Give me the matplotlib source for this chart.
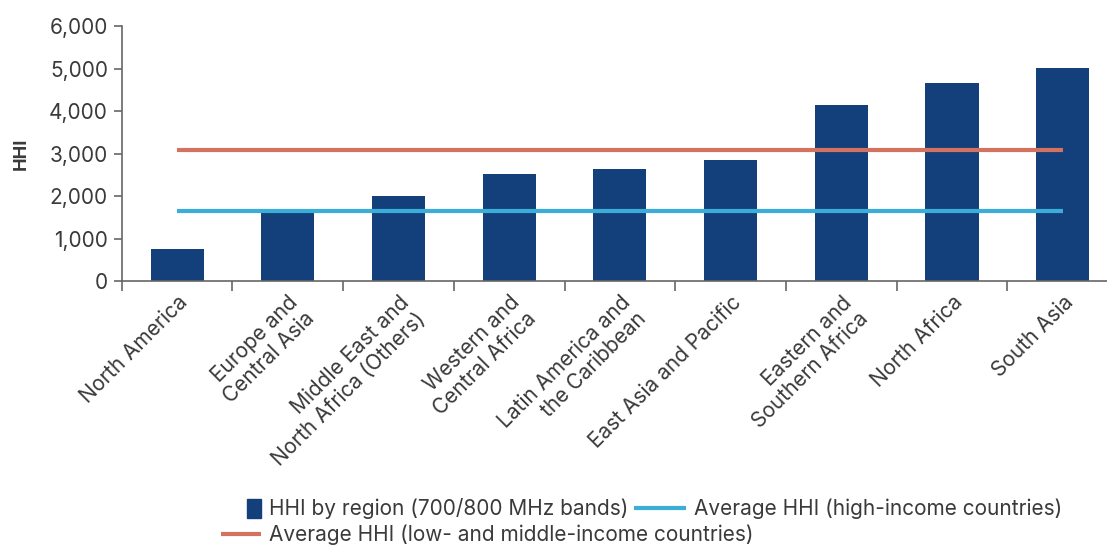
import matplotlib.pyplot as plt
from matplotlib.patches import Rectangle
from matplotlib.legend_handler import HandlerPatch
from matplotlib.ticker import FuncFormatter

plt.rcParams['font.family'] = ['Inter', 'DejaVu Sans']

regions = ['North America', 'Europe and\nCentral Asia', 'Middle East and\nNorth Africa (Others)',
           'Western and\nCentral Africa', 'Latin America and\nthe Caribbean', 'East Asia and Pacific',
           'Eastern and\nSouthern Africa', 'North Africa', 'South Asia']
hhi = [750, 1600, 2000, 2520, 2635, 2850, 4140, 4660, 5010]
avg_high_income = 1640
avg_low_middle_income = 3090

bar_color = '#133F7A'
high_color = '#3AAED8'
low_color = '#D3735F'
text_color = '#3a3a3a'
axis_color = '#666666'
fs = 15

fig = plt.figure(figsize=(11.07, 5.46), dpi=100)
ax = fig.add_axes([0.110, 0.485, 0.900, 0.467])

x = list(range(len(regions)))
bars = ax.bar(x, hhi, width=0.48, color=bar_color, zorder=2)
low_line, = ax.plot([x[0], x[-1]], [avg_low_middle_income] * 2, color=low_color, lw=3,
                    solid_capstyle='butt', zorder=3)
high_line, = ax.plot([x[0], x[-1]], [avg_high_income] * 2, color=high_color, lw=3,
                     solid_capstyle='butt', zorder=3)

ax.set_xlim(-0.5, 8.5)
ax.set_ylim(0, 6000)
ax.set_yticks(range(0, 6001, 1000))
ax.yaxis.set_major_formatter(FuncFormatter(lambda v, p: f'{int(v):,}'))

# category boundaries carry the tick marks, labels sit at bar centres
ax.set_xticks([i - 0.5 for i in range(len(regions) + 1)])
ax.set_xticklabels([])
ax.set_xticks(x, minor=True)
ax.set_xticklabels(regions, minor=True, rotation=45, ha='right', rotation_mode='anchor',
                   fontsize=fs, color=text_color)
ax.tick_params(axis='x', which='minor', length=0, pad=8)
ax.tick_params(axis='x', which='major', length=7, color=axis_color, width=1.2, direction='out')
ax.tick_params(axis='y', length=6, color=axis_color, width=1.2, labelsize=fs,
               labelcolor=text_color, pad=4)

for side in ['top', 'right']:
    ax.spines[side].set_visible(False)
for side in ['left', 'bottom']:
    ax.spines[side].set_color(axis_color)
    ax.spines[side].set_linewidth(1.2)

ax.set_ylabel('HHI', fontsize=13, fontweight='bold', color=text_color, labelpad=14)


def narrow_box(legend, orig_handle, xdescent, ydescent, width, height, fontsize):
    # small upright box at the right end of the handle slot
    w = 0.27 * width
    return Rectangle((width - w - xdescent, -ydescent - 0.15 * height), w, 1.3 * height)


bar_proxy = Rectangle((0, 0), 1, 1, color=bar_color)
fig.legend(handles=[bar_proxy, high_line],
           labels=['HHI by region (700/800 MHz bands)', 'Average HHI (high-income countries)'],
           handler_map={Rectangle: HandlerPatch(patch_func=narrow_box)},
           ncol=2, loc='center left', bbox_to_anchor=(0.189, 0.068), frameon=False,
           fontsize=fs, labelcolor=text_color, handlelength=2.5, columnspacing=0.3,
           handletextpad=0.35, borderaxespad=0, borderpad=0)
fig.legend(handles=[low_line], labels=['Average HHI (low- and middle-income countries)'],
           loc='center left', bbox_to_anchor=(0.200, 0.02), frameon=False,
           fontsize=fs, labelcolor=text_color, handlelength=1.9,
           handletextpad=0.4, borderaxespad=0, borderpad=0)

fig.savefig('out.png', dpi=100)
